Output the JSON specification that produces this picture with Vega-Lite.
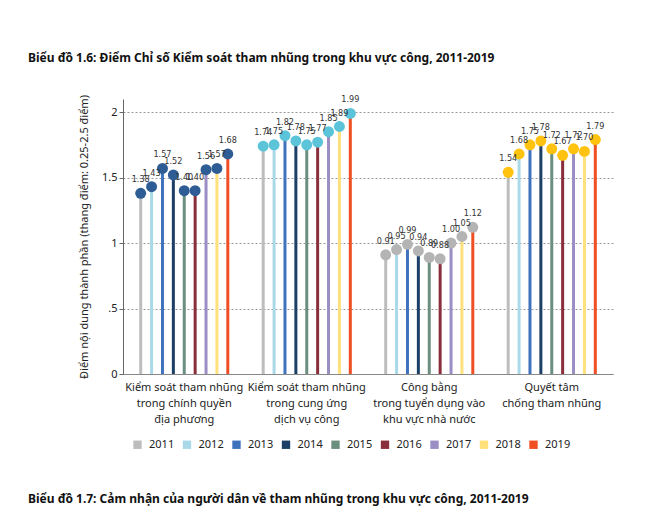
{
  "$schema": "https://vega.github.io/schema/vega-lite/v6.json",
  "background": "white",
  "padding": {"left": 28, "top": 51, "right": 5, "bottom": 5},
  "title": {
    "text": "Biểu đồ 1.6: Điểm Chỉ số Kiểm soát tham nhũng trong khu vực công, 2011-2019",
    "anchor": "start",
    "frame": "group",
    "dx": -95,
    "offset": 30,
    "font": "Noto Sans",
    "fontSize": 12,
    "fontWeight": "bold",
    "color": "#111111"
  },
  "vconcat": [
    {
      "title": {
        "text": "Biểu đồ 1.7: Cảm nhận của người dân về tham nhũng trong khu vực công, 2011-2019",
        "orient": "bottom",
        "anchor": "start",
        "frame": "group",
        "dx": -95,
        "offset": 70,
        "font": "Noto Sans",
        "fontSize": 12,
        "fontWeight": "bold",
        "color": "#111111"
      },
      "width": 490,
      "height": 275,
      "data": {
        "values": [
          {"group": "G1", "year": "2011", "value": 1.38},
          {"group": "G1", "year": "2012", "value": 1.43},
          {"group": "G1", "year": "2013", "value": 1.57},
          {"group": "G1", "year": "2014", "value": 1.52},
          {"group": "G1", "year": "2015", "value": 1.40},
          {"group": "G1", "year": "2016", "value": 1.40},
          {"group": "G1", "year": "2017", "value": 1.56},
          {"group": "G1", "year": "2018", "value": 1.57},
          {"group": "G1", "year": "2019", "value": 1.68},
          {"group": "G2", "year": "2011", "value": 1.74},
          {"group": "G2", "year": "2012", "value": 1.75},
          {"group": "G2", "year": "2013", "value": 1.82},
          {"group": "G2", "year": "2014", "value": 1.78},
          {"group": "G2", "year": "2015", "value": 1.75},
          {"group": "G2", "year": "2016", "value": 1.77},
          {"group": "G2", "year": "2017", "value": 1.85},
          {"group": "G2", "year": "2018", "value": 1.89},
          {"group": "G2", "year": "2019", "value": 1.99},
          {"group": "G3", "year": "2011", "value": 0.91},
          {"group": "G3", "year": "2012", "value": 0.95},
          {"group": "G3", "year": "2013", "value": 0.99},
          {"group": "G3", "year": "2014", "value": 0.94},
          {"group": "G3", "year": "2015", "value": 0.89},
          {"group": "G3", "year": "2016", "value": 0.88},
          {"group": "G3", "year": "2017", "value": 1.00},
          {"group": "G3", "year": "2018", "value": 1.05},
          {"group": "G3", "year": "2019", "value": 1.12},
          {"group": "G4", "year": "2011", "value": 1.54},
          {"group": "G4", "year": "2012", "value": 1.68},
          {"group": "G4", "year": "2013", "value": 1.75},
          {"group": "G4", "year": "2014", "value": 1.78},
          {"group": "G4", "year": "2015", "value": 1.72},
          {"group": "G4", "year": "2016", "value": 1.67},
          {"group": "G4", "year": "2017", "value": 1.72},
          {"group": "G4", "year": "2018", "value": 1.70},
          {"group": "G4", "year": "2019", "value": 1.79}
        ]
      },
      "encoding": {
        "x": {
          "field": "group",
          "type": "nominal",
          "sort": ["G1", "G2", "G3", "G4"],
          "scale": {"paddingInner": 0.2, "paddingOuter": 0.1},
          "axis": {
            "title": null,
            "labelAngle": 0,
            "ticks": false,
            "domainColor": "#888888",
            "labelPadding": 7,
            "labelFont": "Noto Sans",
            "labelFontSize": 11,
            "labelColor": "#222222",
            "labelLineHeight": 16,
            "labelBaseline": "top",
            "labelExpr": "datum.value == 'G1' ? ['Kiểm soát tham nhũng', 'trong chính quyền', 'địa phương'] : datum.value == 'G2' ? ['Kiểm soát tham nhũng', 'trong cung ứng', 'dịch vụ công'] : datum.value == 'G3' ? ['Công bằng', 'trong tuyển dụng vào', 'khu vực nhà nước'] : ['Quyết tâm', 'chống tham nhũng']"
          }
        },
        "xOffset": {"field": "year", "type": "nominal", "scale": {"paddingInner": 0, "paddingOuter": 0}},
        "y": {
          "field": "value",
          "type": "quantitative",
          "scale": {"domain": [0, 2.1], "nice": false},
          "axis": {
            "title": "Điểm nội dung thành phần (thang điểm: 0.25-2.5 điểm)",
            "titleFont": "Noto Sans",
            "titleFontSize": 11,
            "titleFontWeight": "normal",
            "titleColor": "#222222",
            "titlePadding": 12,
            "values": [0, 0.5, 1, 1.5, 2],
            "labelExpr": "datum.value == 0.5 ? '.5' : format(datum.value, '~g')",
            "labelFont": "Noto Sans",
            "labelFontSize": 11,
            "labelColor": "#222222",
            "domainColor": "#666666",
            "tickColor": "#666666",
            "tickSize": 4,
            "grid": true,
            "gridColor": "#999999",
            "gridDash": [2, 2]
          }
        }
      },
      "layer": [
        {
          "mark": {"type": "bar", "size": 3},
          "encoding": {
            "color": {
              "field": "year",
              "type": "nominal",
              "scale": {
                "domain": ["2011", "2012", "2013", "2014", "2015", "2016", "2017", "2018", "2019"],
                "range": ["#bdbdbd", "#a9d8e8", "#3f72bc", "#1b3f66", "#6b8f7f", "#8b2e3c", "#9b8ec4", "#ffe07a", "#f04e23"]
              },
              "legend": {
                "title": null,
                "orient": "none",
                "legendX": 9,
                "legendY": 340,
                "direction": "horizontal",
                "symbolType": "square",
                "symbolSize": 70,
                "symbolStrokeWidth": 0,
                "labelFont": "Noto Sans",
                "labelFontSize": 11,
                "labelColor": "#222222",
                "labelOffset": 6,
                "columnPadding": 6.5
              }
            }
          }
        },
        {
          "mark": {"type": "circle", "size": 120, "opacity": 1},
          "encoding": {
            "fill": {
              "field": "group",
              "type": "nominal",
              "scale": {"domain": ["G1", "G2", "G3", "G4"], "range": ["#2e5d95", "#5bc4d8", "#b4b4b4", "#ffc20f"]},
              "legend": null
            }
          }
        },
        {
          "mark": {"type": "text", "dy": -14, "font": "Liberation Sans Narrow, DejaVu Sans Condensed, sans-serif", "fontSize": 9, "color": "#333333"},
          "encoding": {
            "text": {"field": "value", "type": "quantitative", "format": ".2f"}
          }
        }
      ]
    }
  ],
  "config": {
    "view": {"stroke": null},
    "concat": {"spacing": 0}
  }
}
